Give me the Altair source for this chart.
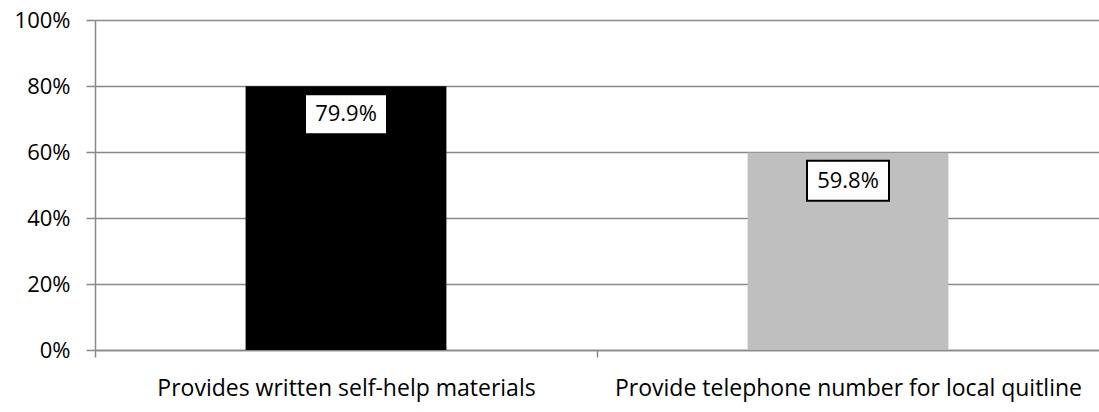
import altair as alt
import pandas as pd

categories = ["Provides written self-help materials", "Provide telephone number for local quitline"]
values = [79.9, 59.8]
labels = ["79.9%", "59.8%"]
colors = ["#000000", "#BFBFBF"]

df = pd.DataFrame({"cat": categories, "value": values, "label": labels, "color": colors})

FONT = "Open Sans"
GRID = "#888888"

x = alt.X("cat:N", sort=categories, title=None,
          scale=alt.Scale(paddingInner=0.6, paddingOuter=0.3),
          axis=alt.Axis(labelAngle=0, labelFont=FONT, labelFontSize=23, labelColor="#000000",
                        labelPadding=20, labelLimit=0, tickOffset=-251, labelOffset=251,
                        tickSize=7, tickColor=GRID,
                        domainColor=GRID, domainWidth=1.5, tickWidth=1.5, grid=False))
y = alt.Y("value:Q", title=None,
          scale=alt.Scale(domain=[0, 100]),
          axis=alt.Axis(values=[0, 20, 40, 60, 80, 100], labelExpr="datum.value + '%'",
                        labelFont=FONT, labelFontSize=22, labelColor="#000000",
                        labelPadding=16, tickSize=9, tickColor=GRID, tickWidth=1.5,
                        domainColor=GRID, domainWidth=1.5,
                        grid=True, gridColor=GRID, gridWidth=1.5))

bars = alt.Chart(df).mark_bar().encode(
    x=x, y=y,
    color=alt.Color("color:N", scale=None, legend=None),
)

boxes = alt.Chart(df).mark_bar(width=82, yOffset=8, y2Offset=48, fill="white",
                               stroke="black", strokeWidth=2).encode(
    x=alt.X("cat:N", sort=categories),
    y=alt.Y("value:Q"),
    y2=alt.Y2("value"),
)

texts = alt.Chart(df).mark_text(font=FONT, fontSize=22, color="black", baseline="middle",
                                align="center", dy=28).encode(
    x=alt.X("cat:N", sort=categories),
    y=alt.Y("value:Q"),
    text="label:N",
)

chart = alt.layer(bars, boxes, texts).properties(
    width=1004, height=330,
    autosize=alt.AutoSizeParams(type="none"),
    padding={"left": 95, "top": 20, "right": 0, "bottom": 62},
).configure_view(stroke=None).configure(background="white")

chart.save("out.html", embed_options={"renderer": "svg", "actions": False})
